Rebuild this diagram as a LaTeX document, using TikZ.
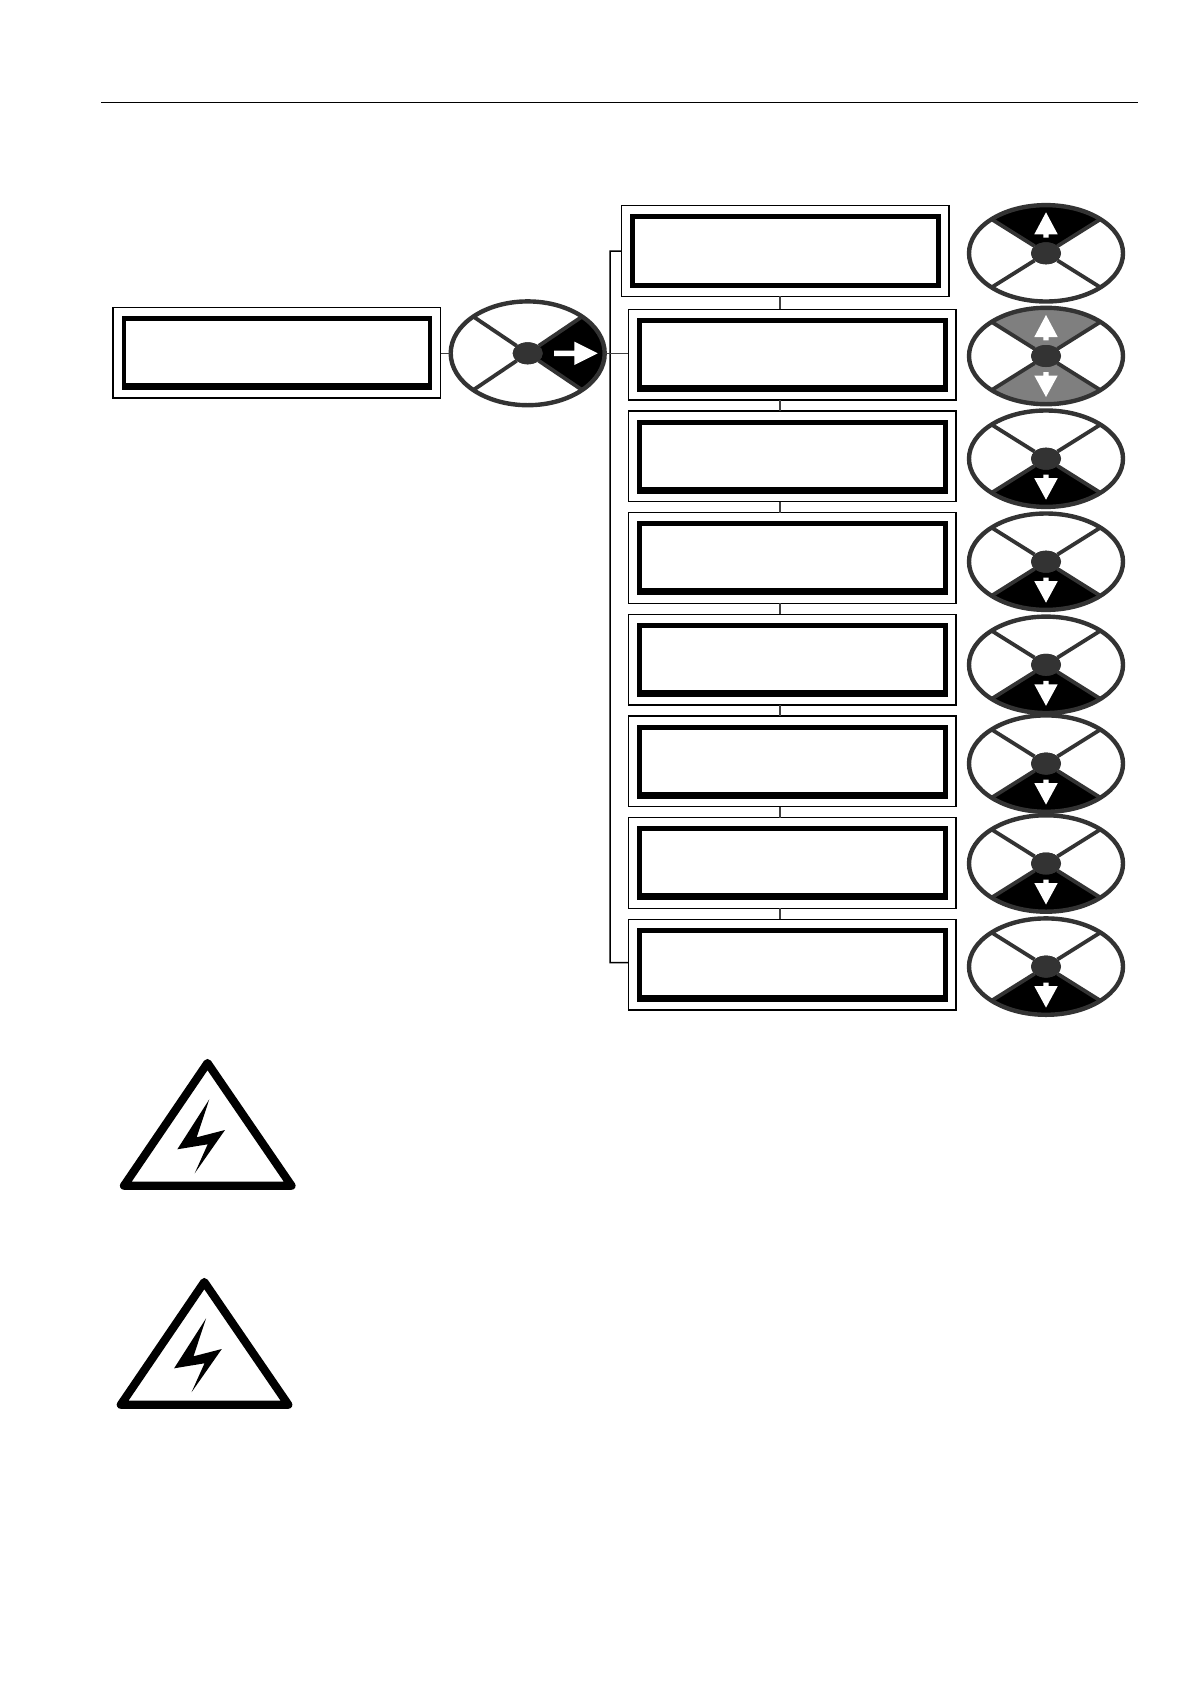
\documentclass[tikz,border=0pt]{standalone}
\usetikzlibrary{shapes.geometric,calc}
\definecolor{rimgray}{HTML}{333333}
\definecolor{softgray}{HTML}{7F7F7F}
\tikzset{
  outerbox/.style={draw=black,line width=1.3pt,fill=white,rectangle,inner sep=0pt,outer sep=0pt,minimum width=327.7pt,minimum height=90.7pt},
  framebox/.style={fill=black,rectangle,inner sep=0pt,outer sep=0pt,minimum width=310.7pt,minimum height=74pt},
  screenbox/.style={fill=white,rectangle,inner sep=0pt,outer sep=0pt,minimum width=301.3pt},
  rimshape/.style={draw=rimgray,line width=4.4pt,ellipse,inner sep=0pt,outer sep=0pt,minimum width=154pt},
  hubshape/.style={fill=rimgray,ellipse,inner sep=0pt,outer sep=0pt,minimum width=30pt,minimum height=22pt},
  spoke/.style={draw=rimgray,line width=3.8pt},
  wire/.style={draw=black,line width=1.5pt},
  softwire/.style={draw=black!75,line width=1.3pt},
  warn/.style={draw=black,line width=8.2pt,line join=round,fill=white}
}
% name, left, top, lower bar thickness
\newcommand\lcdbox[4]{%
  \node[outerbox,anchor=north west] (#1) at (#2,#3) {};
  \node[framebox,anchor=north west] (#1f) at ($(#1.north west)+(8.7,8.7)$) {};
  \pgfmathsetlengthmacro\innerh{(74-5-#4)*1pt}
  \node[screenbox,anchor=north west,minimum height=\innerh] (#1s) at ($(#1f.north west)+(4.7,5)$) {};
}
% name, cx, cy, ry, part drawing
\newcommand\wheelunit[5]{%
  \begin{scope}[shift={(#2,#3)}]
    \pgfmathsetmacro\dyy{0.707*#4}
    \def\ryy{#4}
    #5
    \node[rimshape,minimum height=#4*2pt] (#1) at (0,0) {};
    \coordinate (#1a) at (-54.4,-\dyy);
    \coordinate (#1b) at (54.4,-\dyy);
    \coordinate (#1c) at (54.4,\dyy);
    \coordinate (#1d) at (-54.4,\dyy);
    \node[hubshape] (#1h) at (0,0) {};
    \draw[spoke] (#1h) -- (#1a);
    \draw[spoke] (#1h) -- (#1b);
    \draw[spoke] (#1h) -- (#1c);
    \draw[spoke] (#1h) -- (#1d);
    \node[hubshape] at (#1h) {};
  \end{scope}
}
\newcommand\partup[1]{\begin{scope}\clip (0,0) ellipse (77 and \ryy);\fill[#1] (0,0) -- (-108.8,-2*\dyy) -- (108.8,-2*\dyy) -- cycle;\end{scope}%
  \fill[white] (0,-41) -- (11.7,-19) -- (2.7,-19) -- (2.7,-15.7) -- (-2.7,-15.7) -- (-2.7,-19) -- (-11.7,-19) -- cycle;}
\newcommand\partdown[1]{\begin{scope}\clip (0,0) ellipse (77 and \ryy);\fill[#1] (0,0) -- (-108.8,2*\dyy) -- (108.8,2*\dyy) -- cycle;\end{scope}%
  \fill[white] (0,41) -- (11.7,19.5) -- (2.7,19.5) -- (2.7,16) -- (-2.7,16) -- (-2.7,19.5) -- (-11.7,19.5) -- cycle;}
\newcommand\partright[1]{\begin{scope}\clip (0,0) ellipse (77 and \ryy);\fill[#1] (0,0) -- (108.8,-2*\dyy) -- (108.8,2*\dyy) -- cycle;\end{scope}%
  \fill[white] (70,0) -- (46.7,-11.7) -- (46.7,-2.7) -- (26.3,-2.7) -- (26.3,2.7) -- (46.7,2.7) -- (46.7,11.7) -- cycle;}
\newcommand\warnsign[3]{%
  \begin{scope}[shift={(#2,#3)}]
    \draw[warn] (0,0) -- (84,122.7) -- (-83.5,122.7) -- cycle;
    \fill[black] (1.8,36.3) -- (-10.8,74.3) -- (17.5,67) -- (-12.8,110.3) -- (0.2,81.3) -- (-30.2,86.3) -- cycle;
  \end{scope}
}
\begin{document}
\begin{tikzpicture}[x=1pt,y=-1pt]
  \useasboundingbox (0,0) rectangle (1190,1684);
  \fill[white] (0,0) rectangle (1190,1684);
  \coordinate (ruleL) at (101,102.6);
  \coordinate (ruleR) at (1137.5,102.6);
  \draw[draw=black,line width=0.9pt] (ruleL) -- (ruleR);

  \lcdbox{menu}{113}{307.3}{7}
  \lcdbox{opa}{621.3}{205.7}{5}
  \lcdbox{opb}{628.3}{309.3}{7}
  \lcdbox{opc}{628.3}{411}{7}
  \lcdbox{opd}{628.3}{512.6}{7}
  \lcdbox{ope}{628.3}{614.3}{7}
  \lcdbox{opf}{628.3}{716}{7}
  \lcdbox{opg}{628.3}{817.6}{7}
  \lcdbox{oph}{628.3}{919.3}{7}

  \wheelunit{main}{527.7}{353.3}{51.9}{\partright{black}}
  \wheelunit{wa}{1046}{253.3}{48.2}{\partup{black}}
  \wheelunit{wb}{1046}{356}{48.2}{\partup{softgray}\partdown{softgray}}
  \wheelunit{wc}{1046}{458.7}{48.2}{\partdown{black}}
  \wheelunit{wd}{1046}{561.7}{48.2}{\partdown{black}}
  \wheelunit{we}{1046}{664.8}{48.2}{\partdown{black}}
  \wheelunit{wf}{1046}{763.6}{48.2}{\partdown{black}}
  \wheelunit{wg}{1046}{863.5}{48.2}{\partdown{black}}
  \wheelunit{wh}{1046}{966.6}{48.2}{\partdown{black}}

  \coordinate (trunkT) at (610,251);
  \coordinate (trunkB) at (610,962.7);
  \coordinate (joinX) at (780,0);
  \draw[wire] (opa.west) -- (trunkT) -- (trunkB) -- (oph.west |- trunkB);
  \draw[softwire] (menu.east |- main) -- (main.west);
  \draw[softwire] (main.east) -- (opb.west |- main);
  \foreach \u/\v in {opa/opb,opb/opc,opc/opd,opd/ope,ope/opf,opf/opg,opg/oph}{
    \draw[softwire] (joinX |- \u.south) -- (joinX |- \v.north);
  }
  \warnsign{signa}{207.5}{1063}
  \warnsign{signb}{204.3}{1282}
\end{tikzpicture}
\end{document}
